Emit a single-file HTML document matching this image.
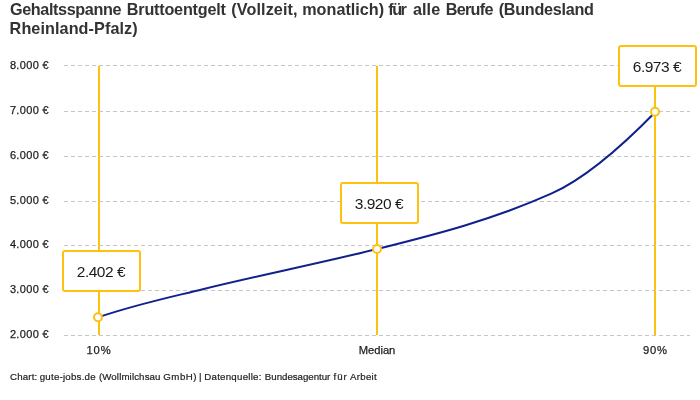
<!DOCTYPE html>
<html lang="de">
<head>
<meta charset="utf-8">
<title>Gehaltsspanne Bruttoentgelt</title>
<style>
html,body{margin:0;padding:0;background:#fff;}
body{width:700px;height:400px;overflow:hidden;position:relative;font-family:"Liberation Sans",sans-serif;}
svg{position:absolute;left:0;top:0;display:block;}
text{font-family:"Liberation Sans",sans-serif;}
.title{font-weight:bold;font-size:16.2px;fill:#333;}
.ylab{font-size:11px;fill:#1e1e1e;stroke:#1e1e1e;stroke-width:0.25px;letter-spacing:0.35px;}
.xlab{font-size:11.2px;fill:#1e1e1e;stroke:#1e1e1e;stroke-width:0.25px;text-anchor:middle;}
.foot{font-size:9.7px;fill:#222;stroke:#222;stroke-width:0.2px;}
.val{font-size:15.5px;fill:#1a1a1a;text-anchor:middle;letter-spacing:-0.5px;}
.grid line{stroke:#c6c6c6;stroke-width:1;stroke-dasharray:4 3;shape-rendering:crispEdges;}
.vl{fill:#fec110;shape-rendering:crispEdges;}
.box{fill:#fff;stroke:#fec110;stroke-width:2;}
.pt{fill:#fff;stroke:#fec110;stroke-width:2;}
</style>
</head>
<body>
<svg width="700" height="400" viewBox="0 0 700 400">
<rect width="700" height="400" fill="#fff"/>
<text class="title" y="14.7"><tspan x="9.95" textLength="111.45">Gehaltsspanne</tspan> <tspan x="126.80" textLength="99.15">Bruttoentgelt</tspan> <tspan x="231.25" textLength="66.35">(Vollzeit,</tspan> <tspan x="302.20" textLength="81.95">monatlich)</tspan> <tspan x="388.35" textLength="18.50">für</tspan> <tspan x="412.90" textLength="27.30">alle</tspan> <tspan x="445.70" textLength="47.70">Berufe</tspan> <tspan x="498.65" textLength="95.25">(Bundesland</tspan></text>
<text class="title" x="9.6" y="33.7" textLength="128.0" lengthAdjust="spacing">Rheinland-Pfalz)</text>
<g>
<text class="ylab" x="9.9" y="68.8">8.000 €</text>
<text class="ylab" x="9.9" y="113.7">7.000 €</text>
<text class="ylab" x="9.9" y="158.6">6.000 €</text>
<text class="ylab" x="9.9" y="203.5">5.000 €</text>
<text class="ylab" x="9.9" y="248.2">4.000 €</text>
<text class="ylab" x="9.9" y="293.0">3.000 €</text>
<text class="ylab" x="9.9" y="337.8">2.000 €</text>
</g>
<rect class="vl" x="98" y="66" width="2" height="269"/>
<rect class="vl" x="376" y="66" width="2" height="269"/>
<rect class="vl" x="654" y="66" width="2" height="269"/>
<g class="grid">
<line x1="64" x2="690" y1="65.5" y2="65.5"/>
<line x1="64" x2="690" y1="111.5" y2="111.5"/>
<line x1="64" x2="690" y1="156.5" y2="156.5"/>
<line x1="64" x2="690" y1="201.5" y2="201.5"/>
<line x1="64" x2="690" y1="245.5" y2="245.5"/>
<line x1="64" x2="690" y1="290.5" y2="290.5"/>
<line x1="64" x2="690" y1="335.5" y2="335.5"/>
</g>
<path fill="none" stroke="#10218b" stroke-width="2" stroke-linejoin="round" d="M98.4,317.3 C133.20,305.17 168.00,297.76 202.8,289.2 C260.87,274.93 318.93,263.43 377.0,249.0 C435.07,234.57 493.13,219.65 551.2,193.7 C586.00,178.09 620.80,147.46 655.6,111.7"/>
<circle class="pt" cx="98" cy="317.2" r="4"/>
<circle class="pt" cx="377" cy="249" r="4"/>
<circle class="pt" cx="655" cy="111.8" r="4"/>
<rect class="box" x="63" y="251" width="77" height="40" rx="2"/>
<rect class="box" x="341" y="183" width="77" height="40" rx="2"/>
<rect class="box" x="619" y="46" width="77" height="40" rx="2"/>
<text class="val" x="100.9" y="276.8">2.402 €</text>
<text class="val" x="378.9" y="208.8">3.920 €</text>
<text class="val" x="656.9" y="71.8">6.973 €</text>
<text class="xlab" x="99" y="353.8" letter-spacing="0.8">10%</text>
<text class="xlab" x="377" y="353.8">Median</text>
<text class="xlab" x="655.3" y="353.8" letter-spacing="0.8">90%</text>
<text class="foot" y="380"><tspan x="10.05" textLength="27.20">Chart:</tspan> <tspan x="39.75" textLength="55.85">gute-jobs.de</tspan> <tspan x="98.90" textLength="61.60">(Wollmilchsau</tspan> <tspan x="163.20" textLength="33.40">GmbH)</tspan> <tspan x="199.05" textLength="3.95">|</tspan> <tspan x="204.25" textLength="57.20">Datenquelle:</tspan> <tspan x="264.85" textLength="65.50">Bundesagentur</tspan> <tspan x="333.60" textLength="13.05">für</tspan> <tspan x="350.10" textLength="26.60">Arbeit</tspan></text>
</svg>
</body>
</html>
